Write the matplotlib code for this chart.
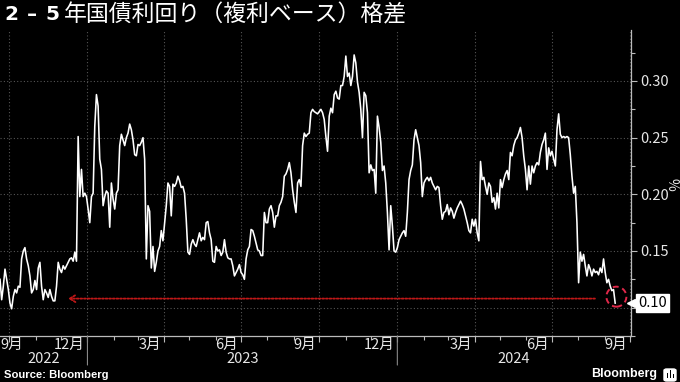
import matplotlib
matplotlib.use("Agg")
import matplotlib.pyplot as plt
import matplotlib.dates as mdates
import matplotlib.transforms as mtransforms
from matplotlib.patches import Circle, FancyBboxPatch, Rectangle
import numpy as np
import pandas as pd

plt.rcParams['font.family'] = ['Liberation Sans Narrow', 'Noto Sans CJK JP', 'DejaVu Sans']

# ---------------- data ----------------
start_date = "2022-09-20"
sample_step = "47h"
spread_values = [
    # Sep 2022 - Dec 2022
    0.125, 0.107, 0.119, 0.134, 0.125, 0.116, 0.104, 0.099, 0.110, 0.116,
    0.113, 0.119, 0.118, 0.143, 0.150, 0.153, 0.143, 0.137, 0.128, 0.113,
    0.116, 0.124, 0.116, 0.135, 0.140, 0.119, 0.107, 0.116, 0.113, 0.109,
    0.116, 0.110, 0.106, 0.106, 0.119, 0.140, 0.134, 0.131, 0.137, 0.134,
    0.137, 0.140, 0.143, 0.144, 0.141, 0.149, 0.141, 0.251, 0.198, 0.222,
    0.198, 0.201, 0.198, 0.187, 0.175, 0.198, 0.201, 0.260, 0.288, 0.278,
    0.231, 0.222, 0.190, 0.198, 0.203, 0.201,
    # Jan 2023 - Apr 2023
    0.171, 0.210, 0.196, 0.187, 0.201, 0.204, 0.243, 0.253, 0.248, 0.243,
    0.250, 0.254, 0.262, 0.257, 0.248, 0.235, 0.234, 0.244, 0.243, 0.246,
    0.250, 0.231, 0.143, 0.190, 0.185, 0.135, 0.154, 0.132, 0.140, 0.150,
    0.154, 0.168, 0.159, 0.175, 0.190, 0.210, 0.207, 0.181, 0.209, 0.207,
    0.210, 0.216, 0.212, 0.206, 0.207, 0.201, 0.178, 0.149, 0.147, 0.156,
    0.160, 0.156, 0.154, 0.160, 0.166, 0.159, 0.162, 0.160, 0.175, 0.176,
    0.166, 0.160, 0.141,
    # May 2023 - Aug 2023
    0.140, 0.154, 0.150, 0.151, 0.146, 0.149, 0.160, 0.149, 0.144, 0.143,
    0.143, 0.137, 0.128, 0.131, 0.134, 0.138, 0.131, 0.129, 0.125, 0.143,
    0.151, 0.154, 0.169, 0.168, 0.163, 0.157, 0.151, 0.150, 0.146, 0.146,
    0.184, 0.175, 0.175, 0.187, 0.190, 0.184, 0.171, 0.181, 0.181, 0.190,
    0.193, 0.198, 0.216, 0.218, 0.222, 0.228, 0.219, 0.204, 0.193, 0.184,
    0.210, 0.213, 0.207, 0.243, 0.254, 0.251, 0.253, 0.254, 0.272, 0.275,
    0.273, 0.272, 0.271,
    # Sep 2023 - Dec 2023
    0.273, 0.275, 0.272, 0.266, 0.251, 0.238, 0.269, 0.276, 0.272, 0.288,
    0.291, 0.285, 0.284, 0.296, 0.296, 0.304, 0.322, 0.304, 0.307, 0.296,
    0.304, 0.323, 0.316, 0.299, 0.290, 0.275, 0.250, 0.290, 0.287, 0.272,
    0.219, 0.226, 0.221, 0.222, 0.201, 0.269, 0.259, 0.246, 0.221, 0.225,
    0.210, 0.184, 0.151, 0.190, 0.172, 0.150, 0.149, 0.153, 0.160, 0.163,
    0.166, 0.168, 0.163, 0.184, 0.213, 0.221, 0.226, 0.248, 0.257, 0.250,
    0.243, 0.228, 0.198,
    # Jan 2024 - May 2024
    0.210, 0.213, 0.215, 0.212, 0.215, 0.210, 0.207, 0.204, 0.207, 0.206,
    0.190, 0.178, 0.184, 0.185, 0.191, 0.182, 0.188, 0.185, 0.179, 0.184,
    0.188, 0.191, 0.194, 0.191, 0.187, 0.181, 0.175, 0.168, 0.166, 0.178,
    0.172, 0.178, 0.166, 0.159, 0.229, 0.213, 0.215, 0.207, 0.200, 0.210,
    0.207, 0.193, 0.197, 0.187, 0.201, 0.188, 0.213, 0.206, 0.213, 0.218,
    0.221, 0.213, 0.237, 0.234, 0.243, 0.248, 0.250, 0.254, 0.259, 0.250,
    0.234, 0.222, 0.204,
    # May 2024 - Sep 2024
    0.225, 0.209, 0.225, 0.219, 0.225, 0.228, 0.226, 0.237, 0.244, 0.248,
    0.254, 0.222, 0.241, 0.234, 0.238, 0.231, 0.225, 0.257, 0.271, 0.253,
    0.250, 0.251, 0.250, 0.251, 0.250, 0.235, 0.216, 0.201, 0.207, 0.175,
    0.122, 0.149, 0.141, 0.147, 0.137, 0.128, 0.138, 0.134, 0.128, 0.134,
    0.131, 0.132, 0.129, 0.135, 0.131, 0.143, 0.131, 0.122, 0.125, 0.119,
    0.115, 0.116, 0.104,
]
dates = pd.date_range(start_date, periods=len(spread_values), freq=sample_step)

x_start = pd.Timestamp("2022-09-20")
x_end = pd.Timestamp("2024-10-02 05:00")
y_min, y_max = 0.0753, 0.345
y_major = [0.10, 0.15, 0.20, 0.25, 0.30]
y_labels = ["", "0.15", "0.20", "0.25", "0.30"]
quarter_ticks = pd.to_datetime(["2022-10-01", "2023-01-01", "2023-04-01", "2023-07-01",
                                "2023-10-01", "2024-01-01", "2024-04-01", "2024-07-01",
                                "2024-10-01"])
month_labels = ["9月", "12月", "3月", "6月", "9月", "12月", "3月", "6月", "9月"]
year_labels = ["2022", "2023", "2024"]
year_bounds = [x_start, pd.Timestamp("2023-01-01"), pd.Timestamp("2024-01-01"), x_end]
arrow_from = pd.Timestamp("2024-08-24")
arrow_to = pd.Timestamp("2022-12-06")
arrow_level = 0.108
circle_date = pd.Timestamp("2024-09-15")
circle_level = 0.1097
last_label = "0.10"

# ---------------- figure ----------------
W, H = 680, 382
fig = plt.figure(figsize=(W / 100, H / 100), dpi=100, facecolor="black")
ax_left, ax_right, ax_top, ax_bottom = 0, 631, 30, 336
ax = fig.add_axes([ax_left / W, 1 - ax_bottom / H, (ax_right - ax_left) / W, (ax_bottom - ax_top) / H])
ax.set_facecolor("black")

grid_color = "#555555"
txt_color = "#e6e6e6"

ax.set_xlim(x_start, x_end)
ax.set_ylim(y_min, y_max)

# gridlines
for yv in y_major:
    ax.axhline(yv, color=grid_color, lw=0.8, ls=(0, (1, 2)), zorder=1)
for d in quarter_ticks:
    ax.axvline(d, color=grid_color, lw=0.8, ls=(0, (1, 2)), zorder=1)

ax.plot(dates, spread_values, color="white", lw=1.15, zorder=3)

# spines
for s in ["top", "left"]:
    ax.spines[s].set_visible(False)
ax.spines["right"].set_color("#bbbbbb")
ax.spines["bottom"].set_color("#bbbbbb")
ax.spines["right"].set_linewidth(0.9)
ax.spines["bottom"].set_linewidth(0.9)

# y axis
ax.yaxis.tick_right()
ax.set_yticks(y_major)
ax.set_yticklabels(y_labels)
ax.set_yticks(np.arange(0.075, 0.345, 0.05), minor=True)
ax.tick_params(axis="y", which="major", colors="#bbbbbb", labelcolor=txt_color,
               length=4, width=0.8, labelsize=10.5, pad=3)
ax.tick_params(axis="y", which="minor", colors="#bbbbbb", length=3, width=0.8)

# x axis
ax.set_xticks(quarter_ticks)
ax.set_xticklabels([""] * len(quarter_ticks))
ax.xaxis.set_minor_locator(mdates.MonthLocator())
ax.tick_params(axis="x", which="major", colors="#bbbbbb", length=4, width=0.8)
ax.tick_params(axis="x", which="minor", colors="#bbbbbb", length=3, width=0.8)

for i, (d, lab) in enumerate(zip(quarter_ticks, month_labels)):
    if i == 0:
        ax.annotate(lab, xy=(0, 0), xycoords="axes fraction", xytext=(0, -6.5),
                    textcoords="offset points", ha="left", va="center",
                    color=txt_color, fontsize=10.5)
    else:
        ax.annotate(lab, xy=(d, 0), xycoords=("data", "axes fraction"), xytext=(-2, -6.5),
                    textcoords="offset points", ha="right", va="center",
                    color=txt_color, fontsize=10.5)

for i, lab in enumerate(year_labels):
    mid = year_bounds[i] + (year_bounds[i + 1] - year_bounds[i]) / 2
    ax.annotate(lab, xy=(mid, 0), xycoords=("data", "axes fraction"), xytext=(0, -16.5),
                textcoords="offset points", ha="center", va="center",
                color=txt_color, fontsize=10.5)
for b in year_bounds[1:3]:
    ax.annotate("", xy=(b, 0), xycoords=("data", "axes fraction"),
                xytext=(b, -0.095), textcoords=("data", "axes fraction"),
                arrowprops=dict(arrowstyle="-", color="#888888", lw=0.8,
                                shrinkA=0, shrinkB=0))

# % unit label
fig.text(671 / W, 1 - 184 / H, "%", color=txt_color, fontsize=10, rotation=270,
         ha="center", va="center")

# last value label
last_v = spread_values[-1]
ax.plot([1.0], [last_v], marker="<", color="white", markersize=6,
        transform=mtransforms.blended_transform_factory(ax.transAxes, ax.transData),
        clip_on=False, zorder=5)
ax.annotate(last_label, xy=(1.0, last_v), xycoords=("axes fraction", "data"),
            xytext=(5, 0), textcoords="offset points", ha="left", va="center",
            color="black", fontsize=10.5, annotation_clip=False,
            bbox=dict(boxstyle="square,pad=0.15", fc="white", ec="white"))

# red arrow
ax.annotate("", xy=(arrow_to, arrow_level), xytext=(arrow_from, arrow_level),
            arrowprops=dict(arrowstyle="->,head_length=0.4,head_width=0.25",
                            color="#c01818", lw=1.3, ls=(0, (1, 1))), zorder=4)

# red dashed circle
circ_tr = fig.dpi_scale_trans + mtransforms.ScaledTranslation(
    mdates.date2num(circle_date), circle_level, ax.transData)
circ = Circle((0, 0), radius=0.10, transform=circ_tr, fill=False,
              ec="#e0284a", lw=1.4, ls=(0, (3, 2)), zorder=5, clip_on=False)
ax.add_artist(circ)

# title
title_font = ["Liberation Sans Narrow", "DejaVu Sans"]
fig.text(4 / W, 1 - 14 / H, "2", color="white", fontsize=14.5, fontweight="bold",
         family=title_font, ha="left", va="center")
fig.text(32 / W, 1 - 14 / H, "–", color="white", fontsize=14.5, fontweight="bold",
         family=["DejaVu Sans"], ha="center", va="center")
fig.text(45 / W, 1 - 14 / H, "5", color="white", fontsize=14.5, fontweight="bold",
         family=title_font, ha="left", va="center")
fig.text(64 / W, 1 - 15 / H, "年国債利回り（複利ベース）格差", color="white", fontsize=16.5,
         family=["Noto Sans CJK JP"], ha="left", va="center")

# footer
fig.text(4 / W, 1 - 375 / H, "Source: Bloomberg", color="white", fontsize=8.1,
         fontweight="bold", family=["Liberation Sans", "DejaVu Sans"], ha="left", va="center")
fig.text(657 / W, 1 - 374 / H, "Bloomberg", color="white", fontsize=9,
         fontweight="bold", family=["Liberation Sans", "DejaVu Sans"], ha="right", va="center")
fig.patches.append(FancyBboxPatch((664 / W, 1 - 381 / H), 12 / W, 12 / H,
                                  boxstyle="round,pad=0,rounding_size=0.004",
                                  transform=fig.transFigure, fc="white", ec="white"))
for bx, bh in [(666.5, 5), (669.5, 8), (672.5, 4)]:
    fig.patches.append(Rectangle((bx / W, 1 - 378 / H), 1.6 / W, bh / H,
                                 transform=fig.transFigure, fc="black", ec="none"))

fig.savefig("out.png", dpi=100, facecolor="black")
